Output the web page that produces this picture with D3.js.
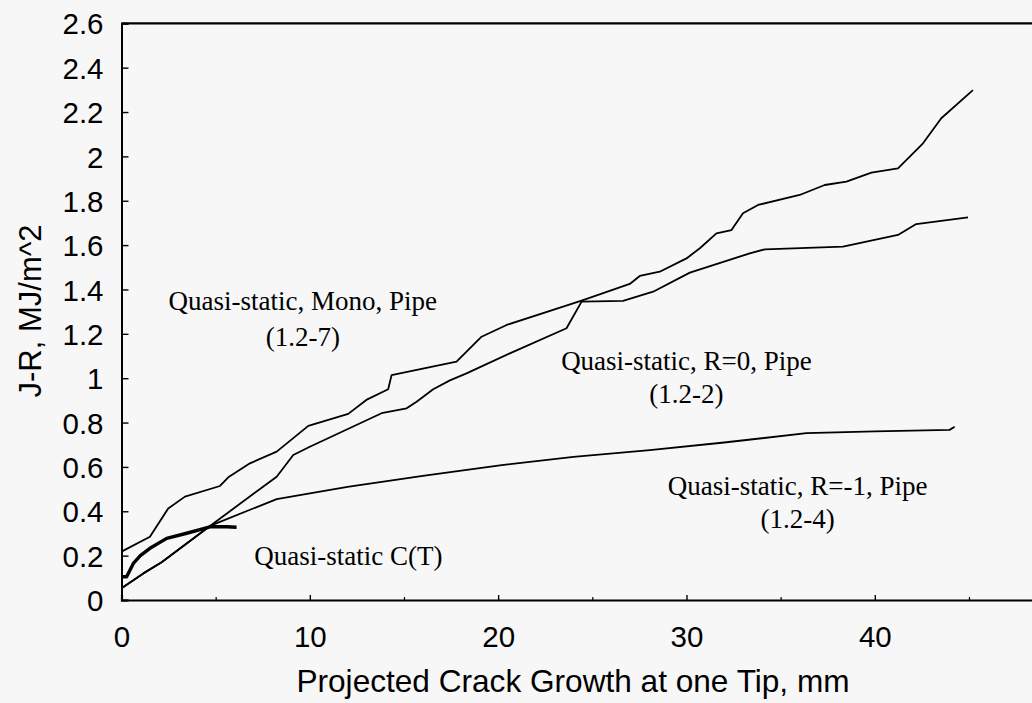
<!DOCTYPE html>
<html>
<head>
<meta charset="utf-8">
<script src="https://cdn.jsdelivr.net/npm/d3@7"></script>
<style>
  html, body { margin: 0; padding: 0; background: #f7f7f7; }
  svg { display: block; }
  .sans { font-family: "Liberation Sans", Arial, sans-serif; fill: #000; }
  .serif { font-family: "Liberation Serif", "Times New Roman", serif; fill: #000; }
</style>
</head>
<body>
<svg id="chart" width="1032" height="703"></svg>
<script>
// Crack growth (mm) and J-R values (MJ/m^2) for each test record
const monoGrowth = [0, 1.51, 2.48, 3.37, 5.23, 5.67, 6.82, 8.24, 9.92, 12.04, 13.0, 14.16, 14.34, 17.79, 19.12, 20.45, 24.43, 26.99, 27.52, 28.58, 30.0, 30.71, 31.59, 32.39, 33.0, 33.8, 36.01, 37.34, 38.49, 39.82, 41.23, 42.56, 43.53, 45.21];
const monoJR     = [0.218, 0.285, 0.413, 0.466, 0.514, 0.553, 0.616, 0.669, 0.785, 0.839, 0.902, 0.95, 1.014, 1.075, 1.187, 1.24, 1.35, 1.425, 1.461, 1.48, 1.54, 1.586, 1.653, 1.668, 1.744, 1.781, 1.826, 1.871, 1.886, 1.927, 1.946, 2.059, 2.172, 2.299];

const r0Growth = [0, 1.16, 2.13, 4.70, 8.24, 9.12, 10.0, 13.81, 15.14, 15.67, 16.55, 17.44, 18.32, 20.62, 23.63, 24.43, 26.63, 28.23, 30.18, 33.36, 34.16, 38.31, 41.23, 42.2, 44.95];
const r0JR     = [0.053, 0.12, 0.17, 0.334, 0.556, 0.654, 0.691, 0.842, 0.864, 0.894, 0.95, 0.99, 1.022, 1.112, 1.225, 1.345, 1.349, 1.39, 1.476, 1.563, 1.581, 1.593, 1.646, 1.695, 1.725];

const rNeg1Growth = [0, 1.16, 2.13, 4.70, 8.24, 12, 16, 20.09, 24, 28.05, 32, 36.37, 40, 43.97, 44.24];
const rNeg1JR     = [0.053, 0.12, 0.17, 0.334, 0.455, 0.51, 0.56, 0.607, 0.645, 0.676, 0.71, 0.752, 0.76, 0.767, 0.781];

const ctGrowth = [0, 0.27, 0.63, 1.0, 1.51, 2.4, 3.46, 4.70, 5.58, 6.11];
const ctJR     = [0.105, 0.105, 0.165, 0.2, 0.233, 0.278, 0.301, 0.33, 0.33, 0.328];

const xMajorTicks = [0, 10, 20, 30, 40];
const xMinorTicks = [5, 15, 25, 35, 45];
const yTicks = [0, 0.2, 0.4, 0.6, 0.8, 1, 1.2, 1.4, 1.6, 1.8, 2, 2.2, 2.4, 2.6];

const xTitle = "Projected Crack Growth at one Tip, mm";
const yTitle = "J-R, MJ/m^2";

const curveLabels = [
  { lines: ["Quasi-static, Mono, Pipe", "(1.2-7)"], a: 9.63, j: [1.306, 1.147] },
  { lines: ["Quasi-static, R=0, Pipe", "(1.2-2)"], a: 30.0, j: [1.037, 0.889] },
  { lines: ["Quasi-static, R=-1, Pipe", "(1.2-4)"], a: 35.9, j: [0.474, 0.325] },
  { lines: ["Quasi-static C(T)"], a: 12.05, j: [0.158] }
];

const svg = d3.select("#chart");
const plotLeft = 121.5, plotTop = 23.3, plotBottom = 600, plotRight = 1033;

const x = d3.scaleLinear().domain([0, 48.4]).range([plotLeft, plotRight]);
const y = d3.scaleLinear().domain([0, 2.6]).range([plotBottom, plotTop]);

const fmt = d => d3.format("")(+d.toFixed(1));

// frame: top border, left and bottom axes
svg.append("line").attr("x1", plotLeft).attr("x2", plotRight).attr("y1", plotTop).attr("y2", plotTop)
  .attr("stroke", "#000").attr("stroke-width", 2.2);

const yAxis = d3.axisLeft(y).tickValues(yTicks).tickSize(-7).tickPadding(18).tickFormat(fmt);
const gy = svg.append("g").attr("transform", `translate(${plotLeft},0)`).call(yAxis);
gy.select(".domain").attr("stroke", "#000").attr("stroke-width", 2);
gy.selectAll(".tick line").attr("stroke", "#000").attr("stroke-width", 1.4);
gy.selectAll(".tick text").attr("class", "sans").style("font-size", "29.5px").attr("dy", "0.36em");

const xAxis = d3.axisBottom(x).tickValues(xMajorTicks).tickSize(-5).tickPadding(26).tickFormat(d3.format("d"));
const gx = svg.append("g").attr("transform", `translate(0,${plotBottom})`).call(xAxis);
gx.select(".domain").attr("stroke", "#000").attr("stroke-width", 2.2);
gx.selectAll(".tick line").attr("stroke", "#000").attr("stroke-width", 1.4);
gx.selectAll(".tick text").attr("class", "sans").style("font-size", "29.5px").attr("dy", "0.71em");

const gxMinor = svg.append("g").attr("transform", `translate(0,${plotBottom})`)
  .call(d3.axisBottom(x).tickValues(xMinorTicks).tickSize(-3).tickFormat(""));
gxMinor.select(".domain").remove();
gxMinor.selectAll(".tick line").attr("stroke", "#000").attr("stroke-width", 1.2);

// axis titles
svg.append("text").attr("class", "sans").style("font-size", "31.6px")
  .attr("x", 573).attr("y", 692).attr("text-anchor", "middle").text(xTitle);
svg.append("text").attr("class", "sans").style("font-size", "31px")
  .attr("transform", "translate(41,311) rotate(-90)").attr("text-anchor", "middle").text(yTitle);

// J-R curves
const line = d3.line().x(d => x(d[0])).y(d => y(d[1]));
const series = [
  { g: monoGrowth, j: monoJR, w: 1.8 },
  { g: r0Growth, j: r0JR, w: 1.8 },
  { g: rNeg1Growth, j: rNeg1JR, w: 1.8 },
  { g: ctGrowth, j: ctJR, w: 3.4 }
];
series.forEach(s => {
  svg.append("path")
    .datum(d3.zip(s.g, s.j))
    .attr("d", line)
    .attr("fill", "none")
    .attr("stroke", "#000")
    .attr("stroke-width", s.w)
    .attr("stroke-linejoin", "round");
});

// curve annotations
curveLabels.forEach(lb => {
  lb.lines.forEach((t, i) => {
    svg.append("text").attr("class", "serif").style("font-size", "27px")
      .attr("x", x(lb.a)).attr("y", y(lb.j[i])).attr("text-anchor", "middle").text(t);
  });
});
</script>
</body>
</html>
